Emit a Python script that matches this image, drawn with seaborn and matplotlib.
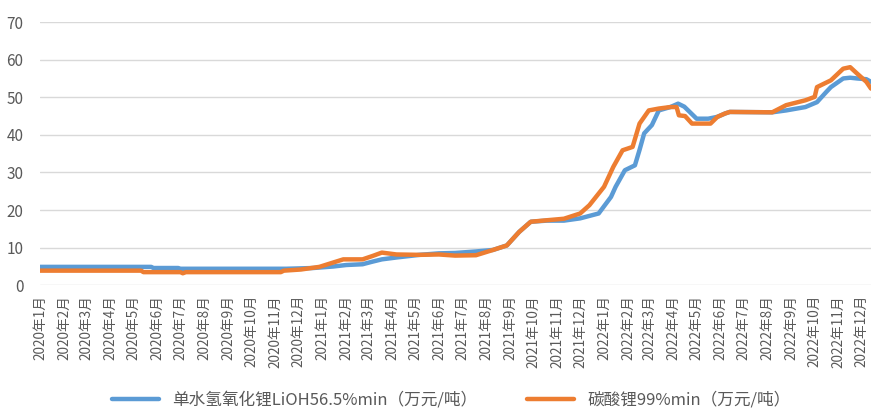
import matplotlib
matplotlib.use("Agg")
import matplotlib.pyplot as plt
import pandas as pd
import seaborn as sns

# 单水氢氧化锂 LiOH56.5%min (万元/吨)
lioh_dates = ["2020-01-01", "2020-05-24", "2020-05-27", "2020-06-28", "2020-07-01",
              "2020-11-15", "2020-12-20", "2021-01-15", "2021-02-01", "2021-02-22",
              "2021-03-07", "2021-03-19", "2021-04-07", "2021-05-07", "2021-06-01",
              "2021-06-22", "2021-07-19", "2021-08-10", "2021-08-28", "2021-09-13",
              "2021-09-28", "2021-10-19", "2021-11-10", "2021-12-01", "2021-12-25",
              "2022-01-10", "2022-01-16", "2022-01-28", "2022-02-10", "2022-02-16",
              "2022-02-22", "2022-03-04", "2022-03-13", "2022-03-28", "2022-04-07",
              "2022-04-15", "2022-04-22", "2022-05-01", "2022-05-16", "2022-05-28",
              "2022-06-07", "2022-06-13", "2022-08-07", "2022-08-25", "2022-09-19",
              "2022-10-04", "2022-10-16", "2022-10-22", "2022-11-07", "2022-11-16",
              "2022-11-25", "2022-12-07", "2022-12-13"]
lioh_values = [4.9, 4.9, 4.6, 4.6, 4.4,
               4.4, 4.6, 5.0, 5.4, 5.6,
               6.3, 6.9, 7.4, 8.1, 8.5,
               8.6, 9.0, 9.4, 10.6, 14.2,
               16.9, 17.2, 17.2, 17.8, 19.1,
               23.5, 26.2, 30.6, 31.9, 36.0,
               40.4, 42.6, 46.5, 47.4, 48.3,
               47.5, 46.1, 44.3, 44.3, 44.8,
               45.7, 46.1, 46.0, 46.5, 47.4,
               48.7, 51.4, 52.7, 55.0, 55.2,
               55.0, 54.8, 54.1]

# 碳酸锂 99%min (万元/吨)
li2co3_dates = ["2020-01-01", "2020-05-11", "2020-05-14", "2020-07-01", "2020-07-04",
                "2020-07-08", "2020-11-08", "2020-11-12", "2020-12-04", "2020-12-28",
                "2021-01-28", "2021-02-22", "2021-03-07", "2021-03-19", "2021-04-07",
                "2021-05-07", "2021-06-01", "2021-06-22", "2021-07-19", "2021-08-10",
                "2021-08-28", "2021-09-13", "2021-09-28", "2021-10-19", "2021-11-10",
                "2021-12-01", "2021-12-13", "2022-01-01", "2022-01-13", "2022-01-25",
                "2022-02-07", "2022-02-16", "2022-02-28", "2022-03-13", "2022-03-28",
                "2022-04-05", "2022-04-08", "2022-04-16", "2022-04-25", "2022-05-19",
                "2022-05-28", "2022-06-07", "2022-06-13", "2022-08-07", "2022-08-25",
                "2022-09-19", "2022-10-01", "2022-10-04", "2022-10-22", "2022-11-07",
                "2022-11-16", "2022-11-25", "2022-12-07", "2022-12-13"]
li2co3_values = [3.9, 3.9, 3.5, 3.5, 3.2,
                 3.5, 3.5, 3.9, 4.2, 4.9,
                 6.9, 6.9, 7.8, 8.7, 8.2,
                 8.1, 8.2, 7.9, 8.0, 9.4,
                 10.6, 14.2, 16.9, 17.3, 17.7,
                 19.1, 21.3, 26.2, 31.5, 35.9,
                 36.8, 43.0, 46.5, 47.0, 47.4,
                 47.4, 45.2, 45.0, 43.0, 43.0,
                 44.8, 45.7, 46.1, 46.0, 47.9,
                 49.2, 50.1, 52.7, 54.5, 57.6,
                 58.0, 56.3, 54.1, 52.3]

name_lioh = "单水氢氧化锂LiOH56.5%min（万元/吨）"
name_li2co3 = "碳酸锂99%min（万元/吨）"

month_labels = [f"{y}年{m}月" for y in (2020, 2021, 2022) for m in range(1, 13)]

df = pd.concat([
    pd.DataFrame({"date": pd.to_datetime(lioh_dates), "value": lioh_values, "series": name_lioh}),
    pd.DataFrame({"date": pd.to_datetime(li2co3_dates), "value": li2co3_values, "series": name_li2co3}),
], ignore_index=True)

sns.set_theme(style="white")
plt.rcParams["font.family"] = ["Noto Sans CJK SC", "DejaVu Sans"]

fig = plt.figure(figsize=(8.71, 4.12), dpi=100)
ax = fig.add_axes([0.046, 0.3075, 0.954, 0.639])

sns.lineplot(data=df, x="date", y="value", hue="series", sort=False,
             palette={name_lioh: "#5B9BD5", name_li2co3: "#ED7D31"},
             linewidth=3.2, ax=ax)

ax.set_xlim(pd.Timestamp("2020-01-01"), pd.Timestamp("2022-12-13"))
ax.set_ylim(0, 70)
ax.set_yticks(range(0, 71, 10))
ticks = pd.date_range("2020-01-01", "2022-12-01", freq="MS")
ax.set_xticks(ticks)
ax.set_xticklabels(month_labels, rotation=90, fontsize=9.8, color="#595959")
ax.tick_params(axis="y", labelsize=11, labelcolor="#595959", pad=12, length=0)
ax.tick_params(axis="x", pad=7, length=0)
ax.grid(axis="y", color="#D9D9D9", linewidth=1)
ax.set_axisbelow(True)
for s in ax.spines.values():
    s.set_visible(False)
ax.set_xlabel("")
ax.set_ylabel("")

sns.move_legend(ax, "lower center", bbox_to_anchor=(0.495, -0.525), ncol=2, frameon=False,
                title=None, fontsize=12, handlelength=2.8, columnspacing=3.0,
                labelcolor="#595959")

fig.savefig("out.png", dpi=100)
